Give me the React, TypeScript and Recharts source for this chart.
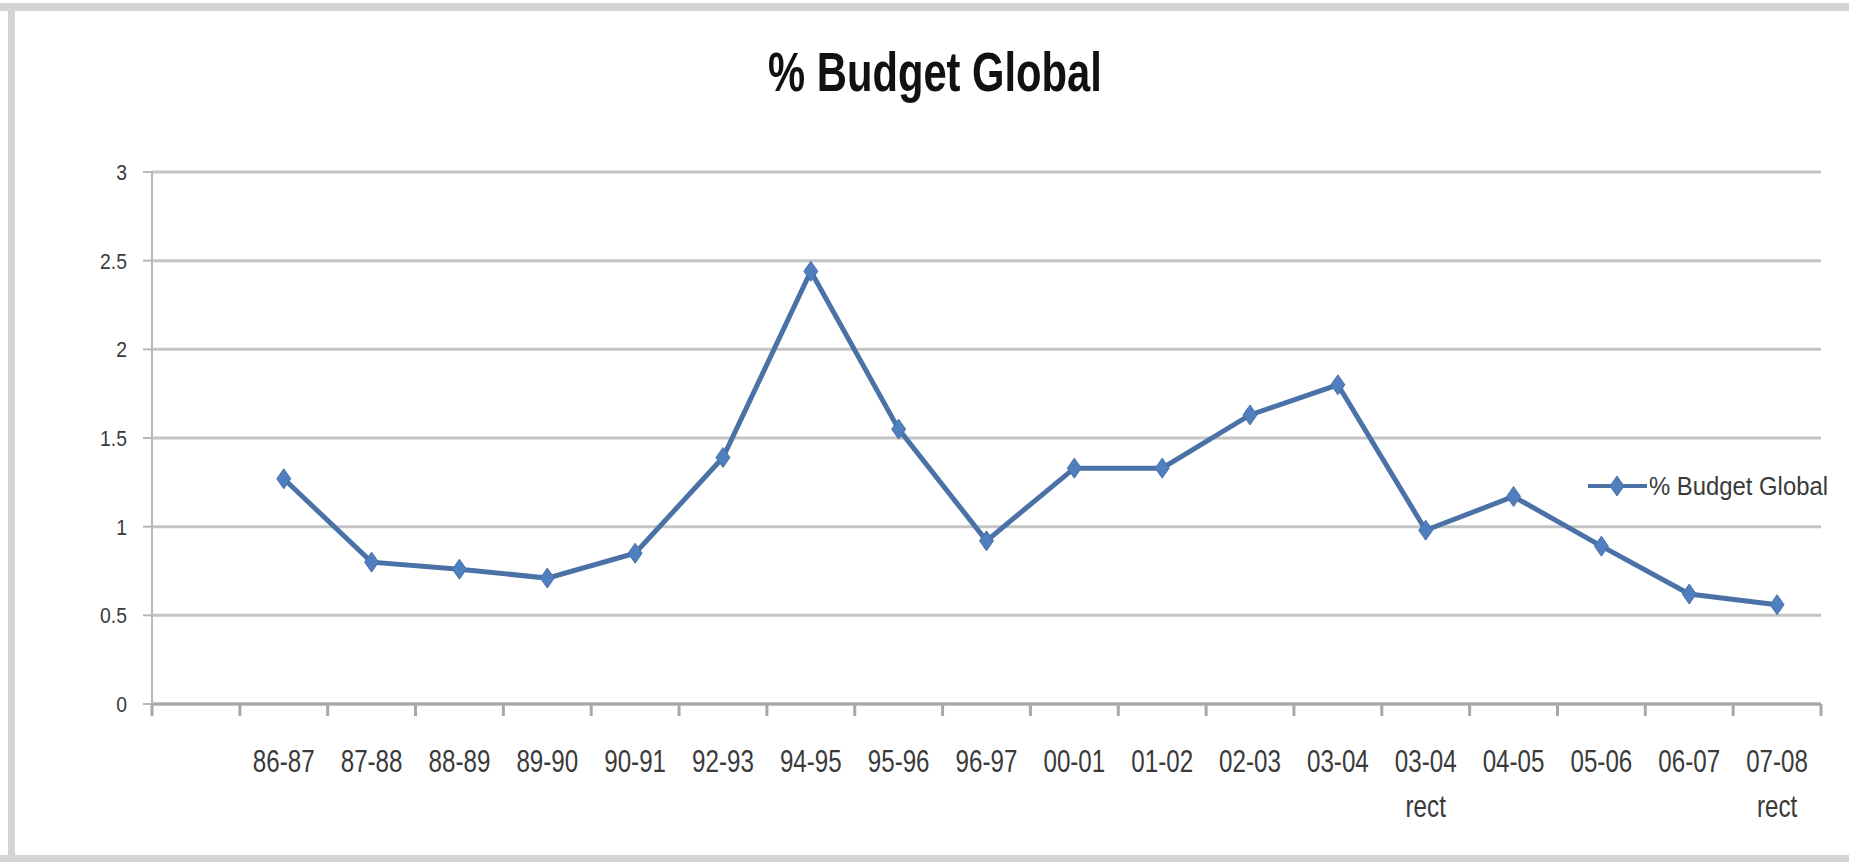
import React from 'react';
import { LineChart, Line, XAxis, YAxis, CartesianGrid, Legend } from 'recharts';

// Excel-style chart: first category is an empty slot
const years = ['', '86-87', '87-88', '88-89', '89-90', '90-91', '92-93', '94-95', '95-96', '96-97', '00-01', '01-02', '02-03', '03-04', '03-04\nrect', '04-05', '05-06', '06-07', '07-08\nrect'];
const budget = [null, 1.27, 0.8, 0.76, 0.71, 0.85, 1.39, 2.44, 1.55, 0.92, 1.33, 1.33, 1.63, 1.8, 0.98, 1.17, 0.89, 0.62, 0.56];
const yTicks = [0, 0.5, 1, 1.5, 2, 2.5, 3];

const SERIES = '% Budget Global';
const W = 1849;
const H = 862;
const PLOT_LEFT = 152;
const PLOT_RIGHT = 1821;
const PLOT_TOP = 172;
const PLOT_BOTTOM = 704;
const BAND = (PLOT_RIGHT - PLOT_LEFT) / years.length;
const FONT = "'Liberation Sans', Arial, sans-serif";
const LINE = '#4a72a6';
const MARK = '#4f7fbf';

const data = years.map((name, i) => ({ name, value: budget[i] }));

function Diamond({ cx, cy }: any) {
  if (cx == null || cy == null) return null;
  return <polygon points={`${cx},${cy - 10} ${cx + 7},${cy} ${cx},${cy + 10} ${cx - 7},${cy}`} fill={MARK} stroke={LINE} strokeWidth={1} />;
}

// labels in the source image are narrow and tall, so squeeze them horizontally
function XTick({ x, y, payload, index }: any) {
  const lines = String(payload.value).split('\n');
  const last = index === years.length - 1;
  return (
    <g>
      <line x1={x - BAND / 2} x2={x - BAND / 2} y1={y} y2={y + 12} stroke="#a8a8a8" strokeWidth={3} />
      {last && <line x1={x + BAND / 2} x2={x + BAND / 2} y1={y} y2={y + 12} stroke="#a8a8a8" strokeWidth={3} />}
      <text transform={`translate(${x},${y + 68}) scale(0.78,1)`} textAnchor="middle" fill="#3a3a3a" fontSize={31} fontFamily={FONT}>
        {lines.map((l, k) => (
          <tspan key={k} x={0} dy={k === 0 ? 0 : 45}>{l}</tspan>
        ))}
      </text>
    </g>
  );
}

function YTick({ x, y, payload }: any) {
  return (
    <text transform={`translate(${x},${y + 8}) scale(0.88,1)`} textAnchor="end" fill="#3a3a3a" fontSize={22} fontFamily={FONT}>
      {payload.value}
    </text>
  );
}

function LegendContent() {
  return (
    <svg width={300} height={30} style={{ display: 'block' }}>
      <line x1={39} x2={98} y1={14} y2={14} stroke={LINE} strokeWidth={4} />
      <Diamond cx={68} cy={14} />
      <text x={100} y={23} textLength={179} lengthAdjust="spacingAndGlyphs" fill="#3a3a3a" fontSize={26} fontFamily={FONT}>
        {SERIES}
      </text>
    </svg>
  );
}

export default function App() {
  return (
    <div style={{ position: 'absolute', left: 0, top: 0, width: W, height: H, background: '#fff', overflow: 'hidden' }}>
      <div style={{ position: 'absolute', left: 0, top: 3, width: W, height: 8, background: '#d4d4d4' }} />
      <div style={{ position: 'absolute', left: 8, top: 3, width: 7, height: H, background: '#d4d4d4' }} />
      <div style={{ position: 'absolute', left: 0, top: 855, width: W, height: 7, background: '#d4d4d4' }} />
      <div
        style={{
          position: 'absolute',
          left: 0,
          top: 44,
          width: 1870,
          textAlign: 'center',
          fontFamily: FONT,
          fontWeight: 'bold',
          fontSize: 56,
          lineHeight: '56px',
          color: '#111',
          transform: 'scaleX(0.745)',
          transformOrigin: '935px 0',
        }}
      >
        {SERIES}
      </div>
      <div style={{ position: 'absolute', left: 0, top: 0 }}>
        <LineChart
          width={W}
          height={H}
          data={data}
          margin={{ top: PLOT_TOP, right: W - PLOT_RIGHT, bottom: 0, left: PLOT_LEFT - 60 }}
        >
          <CartesianGrid vertical={false} stroke="#c4c4c4" strokeWidth={3} />
          <XAxis
            dataKey="name"
            scale="band"
            interval={0}
            tickLine={false}
            tickSize={0}
            tickMargin={0}
            height={H - PLOT_BOTTOM}
            axisLine={{ stroke: '#a8a8a8', strokeWidth: 3 }}
            tick={<XTick />}
          />
          <YAxis
            width={60}
            domain={[0, 3]}
            ticks={yTicks}
            interval={0}
            tickSize={9}
            tickMargin={16}
            axisLine={{ stroke: '#b8b8b8', strokeWidth: 2 }}
            tickLine={{ stroke: '#b8b8b8', strokeWidth: 2 }}
            tick={<YTick />}
          />
          <Legend
            layout="vertical"
            verticalAlign="middle"
            align="center"
            content={<LegendContent />}
            wrapperStyle={{ left: 1549, top: 472, width: 300 }}
          />
          <Line
            type="linear"
            dataKey="value"
            name={SERIES}
            stroke={LINE}
            strokeWidth={5}
            dot={<Diamond />}
            activeDot={false}
            isAnimationActive={false}
          />
        </LineChart>
      </div>
    </div>
  );
}
